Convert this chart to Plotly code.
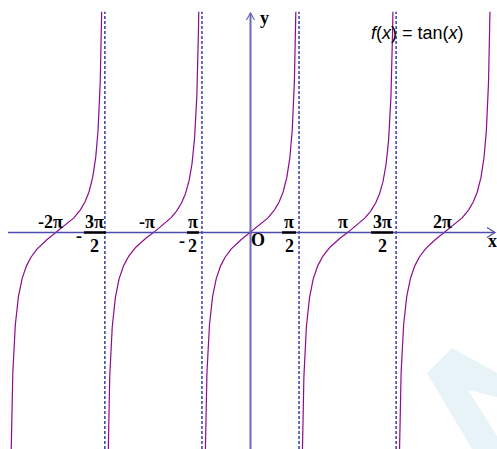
import numpy as np
import plotly.graph_objects as go

# Данные графика f(x) = tan(x)
branch_centers = [-2 * np.pi, -np.pi, 0.0, np.pi, 2 * np.pi]   # центры ветвей
asymptotes = [-3 * np.pi / 2, -np.pi / 2, np.pi / 2, 3 * np.pi / 2]
y_cut = 9.6                                                     # где обрезаны ветви сверху

# Подписи целых кратных π (над осью)
whole_vals = [-2 * np.pi, -np.pi, np.pi, 2 * np.pi]
whole_text = ["-2π", "-π", "π", "2π"]
whole_shift = [-6, -6, -5, -2]

# Подписи дробей (числитель / знаменатель, знак минус)
frac_vals = [-3 * np.pi / 2, -np.pi / 2, np.pi / 2, 3 * np.pi / 2]
frac_num = ["3π", "π", "π", "3π"]
frac_den = ["2", "2", "2", "2"]
frac_neg = [True, True, False, False]
frac_shift = [-10, -9, -10, -14]
frac_half = [11, 6, 7, 11]
neg_dx = [-26, -20, 0, 0]
neg_dy = [-3, -8.5, 0, 0]

# Масштаб в пикселях (картинка 497x449)
W, H = 497, 449
x0_px, y0_px = 250.5, 232.5
px_x, px_y = 30.9, 23.0
x_range = [(0 - x0_px) / px_x, (W - x0_px) / px_x]
y_range = [(y0_px - H) / px_y, y0_px / px_y]

purple = "#8e0a8e"
navy = "#1c1c92"
axis_blue = "#4b4bb0"

fig = go.Figure()

# ветви тангенса
delta = np.arctan(1 / y_cut)
for c in branch_centers:
    xs = np.linspace(c - np.pi / 2 + 0.025, c + np.pi / 2 - delta, 600)
    fig.add_trace(go.Scatter(x=xs, y=np.tan(xs), mode="lines",
                             line=dict(color=purple, width=1.2),
                             hoverinfo="skip", showlegend=False))

shapes = []

# водяной знак в правом нижнем углу
wm = [(427, 373), (452, 348), (497, 373), (497, 397), (468, 390),
      (497, 436), (497, 449), (472, 449)]
path = "M " + " L ".join(f"{px / W:.4f},{1 - py / H:.4f}" for px, py in wm) + " Z"
shapes.append(dict(type="path", xref="paper", yref="paper", path=path,
                   fillcolor="#e8f3f8", line=dict(width=0), layer="below"))

# асимптоты
for a in asymptotes:
    shapes.append(dict(type="line", x0=a, x1=a, y0=y_range[0], y1=y_cut,
                       line=dict(color=navy, width=1.3, dash="3px,2px")))

# оси
xa_left = (8 - x0_px) / px_x
xa_right = (495 - x0_px) / px_x
ya_top = (y0_px - 13) / px_y
shapes.append(dict(type="line", x0=xa_left, x1=xa_right, y0=0, y1=0,
                   line=dict(color=axis_blue, width=1.5)))
shapes.append(dict(type="line", x0=0, x1=0, y0=y_range[0], y1=ya_top,
                   line=dict(color="#6a6ac4", width=2)))
# стрелки
ax, ay = 8 / px_x, 5 / px_y
shapes.append(dict(type="path",
                   path=f"M {xa_right - ax},{ay} L {xa_right},0 L {xa_right - ax},{-ay}",
                   line=dict(color=axis_blue, width=1.2)))
bx, by = 4 / px_x, 7 / px_y
shapes.append(dict(type="path",
                   path=f"M {-bx},{ya_top - by} L 0,{ya_top} L {bx},{ya_top - by}",
                   line=dict(color="#6a6ac4", width=1.2)))

# черты дробей
for v, s, h in zip(frac_vals, frac_shift, frac_half):
    shapes.append(dict(type="line", x0=v + (s - h) / px_x, x1=v + (s + h) / px_x,
                       y0=0, y1=0, line=dict(color="black", width=2.5)))

serif = dict(family="Liberation Serif", size=18, color="black")
ann = []
for v, t, s in zip(whole_vals, whole_text, whole_shift):
    ann.append(dict(x=v, y=0, text=f"<b>{t}</b>", xshift=s, yshift=11,
                    showarrow=False, font=serif))
for v, n, d, neg, s, nx, ny in zip(frac_vals, frac_num, frac_den, frac_neg,
                                   frac_shift, neg_dx, neg_dy):
    ann.append(dict(x=v, y=0, text=f"<b>{n}</b>", xshift=s, yshift=11,
                    showarrow=False, font=serif))
    ann.append(dict(x=v, y=0, text=f"<b>{d}</b>", xshift=s, yshift=-13,
                    showarrow=False, font=serif))
    if neg:
        ann.append(dict(x=v, y=0, text="<b>-</b>", xshift=nx, yshift=ny,
                        showarrow=False, font=serif))
ann.append(dict(x=0, y=0, text="<b>O</b>", xshift=7, yshift=-7,
                showarrow=False, font=serif))
ann.append(dict(x=xa_right, y=0, text="<b>x</b>", xshift=-3, yshift=-8,
                showarrow=False, font=serif))
ann.append(dict(x=0, y=ya_top, text="<b>y</b>", xshift=14, yshift=-5,
                showarrow=False, font=serif))
ann.append(dict(x=417 / W, y=1 - 33 / H, xref="paper", yref="paper",
                xanchor="center", yanchor="middle",
                text="<i>f</i>(<i>x</i>) = tan(<i>x</i>)", showarrow=False,
                font=dict(family="Liberation Sans", size=18, color="black")))

# точка начала координат
fig.add_trace(go.Scatter(x=[0], y=[0], mode="markers",
                         marker=dict(color="red", size=3),
                         hoverinfo="skip", showlegend=False))

fig.update_layout(
    width=W, height=H,
    margin=dict(l=0, r=0, t=0, b=0),
    paper_bgcolor="white", plot_bgcolor="white",
    xaxis=dict(range=x_range, visible=False, fixedrange=True),
    yaxis=dict(range=y_range, visible=False, fixedrange=True),
    shapes=shapes, annotations=ann,
)

fig.write_html("out.html", config={"displayModeBar": False},
               post_script="document.body.style.margin='0';")
